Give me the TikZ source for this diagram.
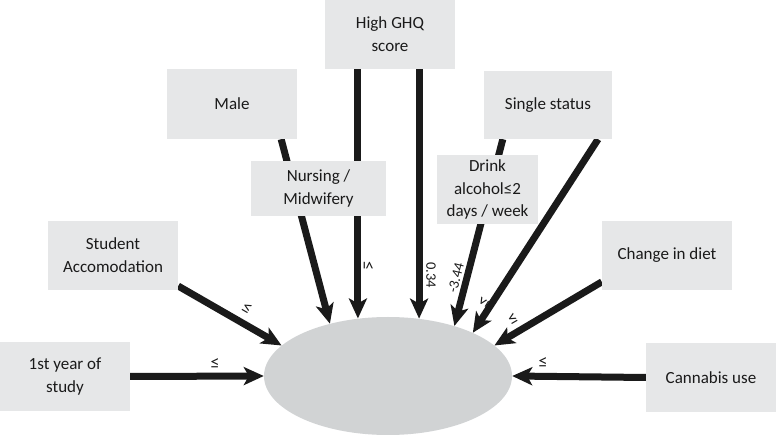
\documentclass[tikz,border=0pt]{standalone}
\usepackage{fontspec}
\setmainfont{Carlito}
\usetikzlibrary{arrows.meta,shapes.geometric,calc}
\definecolor{boxgray}{HTML}{E6E7E8}
\definecolor{ellgray}{HTML}{D1D3D4}
\definecolor{ink}{HTML}{1A1A1A}
\pgfdeclarelayer{bg}
\pgfsetlayers{bg,main}
\begin{document}
\begin{tikzpicture}[x=1pt,y=1pt,
  box/.style={fill=boxgray, inner sep=0pt, align=center, font=\fontsize{17}{22.8}\selectfont, text=ink},
  conn/.style={draw=ink, line width=7pt, -{Stealth[length=20pt,width=18pt,inset=5pt]}},
  lbl/.style={font=\fontsize{18}{20}\selectfont, text=ink, inner sep=0pt},
  num/.style={font=\fontsize{14.5}{16}\selectfont, text=ink, inner sep=0pt}]
\useasboundingbox (0,0) rectangle (776,436);
% boxes
\node[box, minimum width=130pt, minimum height=69pt] (ghq) at (390,401.5) {High GHQ\\score};
\node[box, minimum width=130pt, minimum height=70pt] (male) at (232,332) {Male};
\node[box, minimum width=128pt, minimum height=68pt] (single) at (548,331) {Single status};
\node[box, minimum width=135pt, minimum height=55pt] (nurs) at (318.5,247.5) {Nursing /\\Midwifery};
\node[box, minimum width=101pt, minimum height=69pt] (drink) at (487.5,246.5) {Drink\\alcohol≤2\\days / week};
\node[box, minimum width=130pt, minimum height=69pt] (stud) at (113,180.5) {Student\\Accomodation};
\node[box, minimum width=130pt, minimum height=69pt] (first) at (65,59.5) {1st year of\\study};
\node[box, minimum width=130pt, minimum height=69pt] (diet) at (667,180.5) {Change in diet};
\node[box, minimum width=130pt, minimum height=69pt] (cann) at (711,58.5) {Cannabis use};
\node[ellipse, fill=ellgray, minimum width=248pt, minimum height=118pt, inner sep=0pt] (ell) at (388,60) {};
% start points
\coordinate (sA) at ($(male.south west)!0.877!(male.south east)$);
\coordinate (sB) at ($(ghq.south west)!0.254!(ghq.south east)$);
\coordinate (sC) at ($(ghq.south west)!0.723!(ghq.south east)$);
\coordinate (sD) at ($(single.south west)!0.148!(single.south east)$);
\coordinate (sE) at ($(single.south west)!0.89!(single.south east)$);
\coordinate (sI) at ($(stud.north east)!0.94!(stud.south east)$);
\coordinate (sF) at ($(diet.north west)!0.88!(diet.south west)$);
\begin{pgfonlayer}{bg}
\draw[conn] (first.east) -- (ell.west);
\draw[conn] (cann.west) -- (ell.east);
\draw[conn] (sI) -- (ell.164);
\draw[conn] (sA) -- (ell.138);
\draw[conn] (sB) -- (sB |- ell.117);
\draw[conn] (sC) -- (sC |- ell.62);
\draw[conn] (sD) -- (ell.37);
\draw[conn] (sE) -- (ell.27);
\draw[conn] (sF) -- (ell.16);
\end{pgfonlayer}
% labels
\node[lbl] (lH) at (215,72) {≤};
\node[lbl] (lG) at (543,73) {≤};
\node[lbl, rotate=-30] (lI) at (247,128) {≤};
\node[lbl, rotate=-90] (lB) at (368,170) {≤};
\node[num, rotate=-90] (lC) at (431,161) {0.34};
\node[num, rotate=76] (lD) at (456,158) {-3.44};
\node[lbl, rotate=58] (lE) at (484,134) {≤};
\node[lbl, rotate=30] (lF) at (513,117) {≤};
\end{tikzpicture}
\end{document}
